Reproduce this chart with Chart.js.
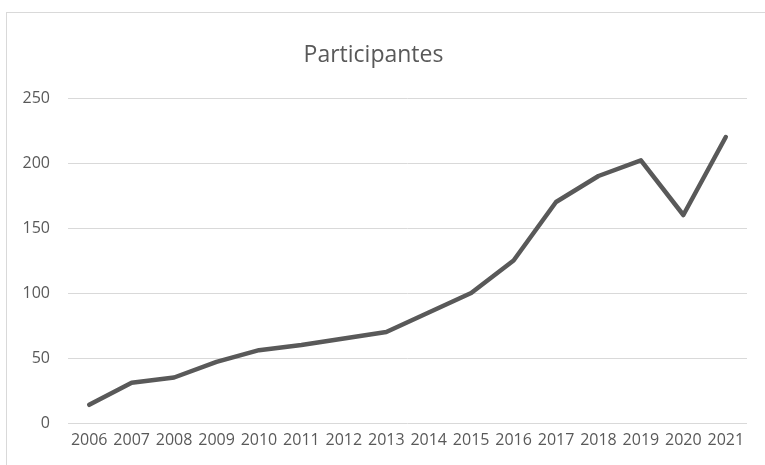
<!DOCTYPE html>
<html>
<head>
<meta charset="utf-8">
<script src="https://cdn.jsdelivr.net/npm/chart.js@4/dist/chart.umd.min.js"></script>
<style>
  html,body{margin:0;padding:0;background:#fff;overflow:hidden;width:765px;height:465px;}
  #frame{position:absolute;left:6px;top:12px;width:820px;height:520px;border:1px solid #d9d9d9;box-sizing:border-box;}
  #wrap{position:absolute;left:0;top:0;width:765px;height:465px;}
</style>
</head>
<body>
<div id="frame"></div>
<div id="wrap"><canvas id="c" width="765" height="465"></canvas></div>
<script>
const years = ["2006","2007","2008","2009","2010","2011","2012","2013","2014","2015","2016","2017","2018","2019","2020","2021"];
const participantes = [14, 31, 35, 47, 56, 60, 65, 70, 85, 100, 125, 170, 190, 202, 160, 220];
const yTicks = [0, 50, 100, 150, 200, 250];
const chartTitle = "Participantes";

const FONT = "'Open Sans', 'Noto Sans', sans-serif";
const TXT = "#595959";

new Chart(document.getElementById('c'), {
  type: 'line',
  data: {
    labels: years,
    datasets: [{
      label: chartTitle,
      data: participantes,
      borderColor: '#595959',
      borderWidth: 4.5,
      pointRadius: 0,
      tension: 0,
      fill: false,
      borderCapStyle: 'round',
      borderJoinStyle: 'round'
    }]
  },
  options: {
    responsive: false,
    animation: false,
    devicePixelRatio: 1,
    layout: { padding: { left: 0, right: 18, top: 0, bottom: 0 } },
    plugins: {
      legend: { display: false },
      tooltip: { enabled: false },
      title: {
        display: true,
        text: chartTitle,
        color: TXT,
        font: { family: FONT, size: 23, weight: 'normal', lineHeight: 1.2 },
        padding: { top: 42, bottom: 28.4 }
      }
    },
    scales: {
      x: {
        offset: true,
        grid: { display: false, drawTicks: false },
        border: { display: false },
        ticks: { color: TXT, font: { family: FONT, size: 16 }, padding: 8, maxRotation: 0, autoSkip: false },
        afterFit: (s) => { s.height = 42; }
      },
      y: {
        min: 0,
        max: 250,
        afterBuildTicks: (s) => { s.ticks = yTicks.map(v => ({ value: v })); },
        grid: { color: '#d9d9d9', lineWidth: 1, drawTicks: false },
        border: { display: false },
        ticks: { color: TXT, font: { family: FONT, size: 16 }, padding: 18 },
        afterFit: (s) => { s.width = 68; }
      }
    }
  }
});
</script>
</body>
</html>
